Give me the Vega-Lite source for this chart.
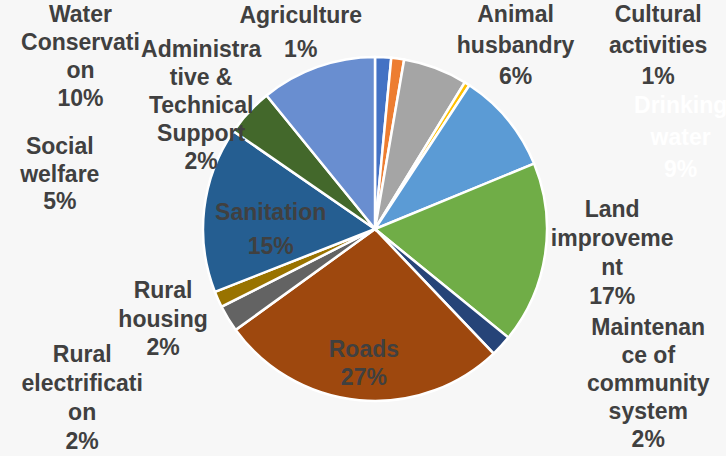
{
  "$schema": "https://vega.github.io/schema/vega-lite/v6.json",
  "width": 702,
  "height": 454,
  "autosize": "none",
  "padding": {"left": 24, "top": 2, "right": 0, "bottom": 0},
  "background": "#f7f7f7",
  "config": {
    "view": {"stroke": null, "fill": {"gradient": "linear", "x1": 0, "y1": 0, "x2": 0, "y2": 1, "stops": [{"offset": 0, "color": "#f2f2f2"}, {"offset": 1, "color": "#fefefe"}]}},
    "text": {"font": "Liberation Sans", "fontSize": 23, "fontWeight": "bold", "lineBreak": "\n", "lineHeight": 28, "align": "center", "baseline": "middle", "fill": "#404040"}
  },
  "data": {"values": [
    {"idx": 1, "category": "Administrative & Technical Support", "value": 1.5, "label": "Administra\ntive &\nTechnical\nSupport\n2%"},
    {"idx": 2, "category": "Agriculture", "value": 1.2, "label": "Agriculture\n1%"},
    {"idx": 3, "category": "Animal husbandry", "value": 6, "label": "Animal\nhusbandry\n6%"},
    {"idx": 4, "category": "Cultural activities", "value": 0.5, "label": "Cultural\nactivities\n1%"},
    {"idx": 5, "category": "Drinking water", "value": 9.5, "label": "Drinking\nwater\n9%"},
    {"idx": 6, "category": "Land improvement", "value": 17, "label": "Land\nimproveme\nnt\n17%"},
    {"idx": 7, "category": "Maintenance of community system", "value": 2, "label": "Maintenan\nce of\ncommunity\nsystem\n2%"},
    {"idx": 8, "category": "Roads", "value": 27, "label": "Roads\n27%"},
    {"idx": 9, "category": "Rural electrification", "value": 2.5, "label": "Rural\nelectrificati\non\n2%"},
    {"idx": 10, "category": "Rural housing", "value": 1.5, "label": "Rural\nhousing\n2%"},
    {"idx": 11, "category": "Sanitation", "value": 15.5, "label": "Sanitation\n15%"},
    {"idx": 12, "category": "Social welfare", "value": 4.5, "label": "Social\nwelfare\n5%"},
    {"idx": 13, "category": "Water Conservation", "value": 10.8, "label": "Water\nConservati\non\n10%"}
  ]},
  "encoding": {
    "theta": {"field": "value", "type": "quantitative", "stack": true},
    "order": {"field": "idx", "type": "quantitative"}
  },
  "layer": [
    {
      "mark": {"type": "arc", "outerRadius": 172, "stroke": "#ffffff", "strokeWidth": 2.5},
      "encoding": {
        "color": {"field": "category", "type": "nominal", "legend": null,
          "scale": {"domain": ["Administrative & Technical Support", "Agriculture", "Animal husbandry", "Cultural activities", "Drinking water", "Land improvement", "Maintenance of community system", "Roads", "Rural electrification", "Rural housing", "Sanitation", "Social welfare", "Water Conservation"],
            "range": ["#4472C4", "#ED7D31", "#A5A5A5", "#FFC000", "#5B9BD5", "#70AD47", "#264478", "#9E480E", "#636363", "#997300", "#255E91", "#43682B", "#698ED0"]}}
      }
    },
    {"mark": {"type": "text", "radius": 172, "dx": -237, "dy": -52},
     "encoding": {"text": {"condition": {"test": "datum.category === 'Water Conservation'", "field": "label"}, "value": ""}}},
    {"mark": {"type": "text", "radius": 172, "dx": -182, "dy": -7},
     "encoding": {"text": {"condition": {"test": "datum.category === 'Administrative & Technical Support'", "field": "label"}, "value": ""}}},
    {"mark": {"type": "text", "radius": 172, "dx": -97, "dy": -43, "lineHeight": 34},
     "encoding": {"text": {"condition": {"test": "datum.category === 'Agriculture'", "field": "label"}, "value": ""}}},
    {"mark": {"type": "text", "radius": 172, "dx": 80, "dy": -53, "lineHeight": 31},
     "encoding": {"text": {"condition": {"test": "datum.category === 'Animal husbandry'", "field": "label"}, "value": ""}}},
    {"mark": {"type": "text", "radius": 172, "dx": 191, "dy": -69, "lineHeight": 31},
     "encoding": {"text": {"condition": {"test": "datum.category === 'Cultural activities'", "field": "label"}, "value": ""}}},
    {"mark": {"type": "text", "radius": 172, "dx": 173, "dy": -14, "lineHeight": 32, "fill": "#ffffff"},
     "encoding": {"text": {"condition": {"test": "datum.category === 'Drinking water'", "field": "label"}, "value": ""}}},
    {"mark": {"type": "text", "radius": 172, "dx": 67, "dy": -44, "lineHeight": 29},
     "encoding": {"text": {"condition": {"test": "datum.category === 'Land improvement'", "field": "label"}, "value": ""}}},
    {"mark": {"type": "text", "radius": 172, "dx": 147, "dy": -18},
     "encoding": {"text": {"condition": {"test": "datum.category === 'Maintenance of community system'", "field": "label"}, "value": ""}}},
    {"mark": {"type": "text", "radius": 172, "dx": -146, "dy": 36, "lineHeight": 29},
     "encoding": {"text": {"condition": {"test": "datum.category === 'Rural electrification'", "field": "label"}, "value": ""}}},
    {"mark": {"type": "text", "radius": 172, "dx": -55, "dy": -8, "lineHeight": 28.5},
     "encoding": {"text": {"condition": {"test": "datum.category === 'Rural housing'", "field": "label"}, "value": ""}}},
    {"mark": {"type": "text", "radius": 172, "dx": -189, "dy": 35, "lineHeight": 27.5},
     "encoding": {"text": {"condition": {"test": "datum.category === 'Social welfare'", "field": "label"}, "value": ""}}},
    {"mark": {"type": "text", "radius": 121.5},
     "encoding": {"text": {"condition": {"test": "datum.category === 'Roads'", "field": "label"}, "value": ""}}},
    {"mark": {"type": "text", "radius": 105, "dy": -4, "lineHeight": 34},
     "encoding": {"text": {"condition": {"test": "datum.category === 'Sanitation'", "field": "label"}, "value": ""}}}
  ]
}
